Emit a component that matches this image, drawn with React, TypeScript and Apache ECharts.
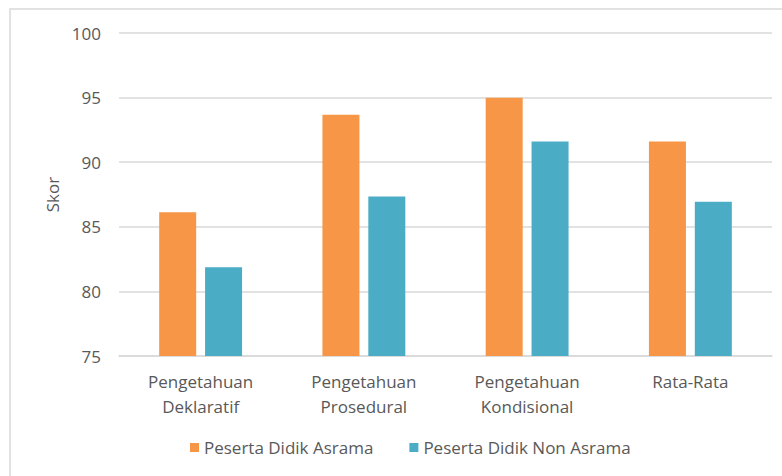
import React, { useEffect, useRef } from "react";
import * as echarts from "echarts";

const categories = [
  "Pengetahuan\nDeklaratif",
  "Pengetahuan\nProsedural",
  "Pengetahuan\nKondisional",
  "Rata-Rata",
];
const asrama = [86.13, 93.67, 94.98, 91.6];
const nonAsrama = [81.86, 87.35, 91.6, 86.94];
const seriesNames = ["Peserta Didik Asrama", "Peserta Didik Non Asrama"];
const yName = "Skor";

const FONT = "'Open Sans', 'Liberation Sans', sans-serif";
const TXT = "#595959";

export default function App() {
  const ref = useRef<HTMLDivElement>(null);
  useEffect(() => {
    if (!ref.current) return;
    const chart = echarts.init(ref.current, undefined, { renderer: "svg" });
    chart.setOption({
      animation: false,
      backgroundColor: "#ffffff",
      textStyle: { fontFamily: FONT },
      graphic: [
        {
          type: "rect",
          shape: { x: 10, y: 9, width: 820, height: 520 },
          style: { fill: "none", stroke: "#d9d9d9", lineWidth: 1.5 },
          silent: true,
        },
      ],
      grid: { left: 119, right: 10, top: 33, bottom: 120 },
      legend: {
        bottom: 15,
        left: 185,
        itemWidth: 9,
        itemHeight: 9,
        itemGap: 36,
        icon: "rect",
        textStyle: { color: TXT, fontSize: 17, fontFamily: FONT },
        data: seriesNames,
      },
      xAxis: {
        type: "category",
        data: categories,
        axisLine: { lineStyle: { color: "#d9d9d9", width: 1.5 } },
        axisTick: { show: false },
        axisLabel: {
          color: TXT,
          fontSize: 17,
          lineHeight: 25,
          margin: 13,
          fontFamily: FONT,
        },
      },
      yAxis: {
        type: "value",
        min: 75,
        max: 100,
        interval: 5,
        name: yName,
        nameLocation: "middle",
        nameGap: 58,
        nameTextStyle: { color: TXT, fontSize: 17, fontFamily: FONT },
        axisLine: { show: false },
        axisTick: { show: false },
        axisLabel: { color: TXT, fontSize: 17, margin: 18, fontFamily: FONT },
        splitLine: { lineStyle: { color: "#d9d9d9", width: 1.5 } },
      },
      series: [
        {
          name: seriesNames[0],
          type: "bar",
          data: asrama,
          barWidth: 37,
          barGap: "24%",
          itemStyle: { color: "#f79646" },
        },
        {
          name: seriesNames[1],
          type: "bar",
          data: nonAsrama,
          barWidth: 37,
          barGap: "24%",
          itemStyle: { color: "#4bacc6" },
        },
      ],
    });
    return () => chart.dispose();
  }, []);
  return (
    <div
      ref={ref}
      style={{ position: "absolute", left: 0, top: 0, width: 782, height: 476 }}
    />
  );
}
